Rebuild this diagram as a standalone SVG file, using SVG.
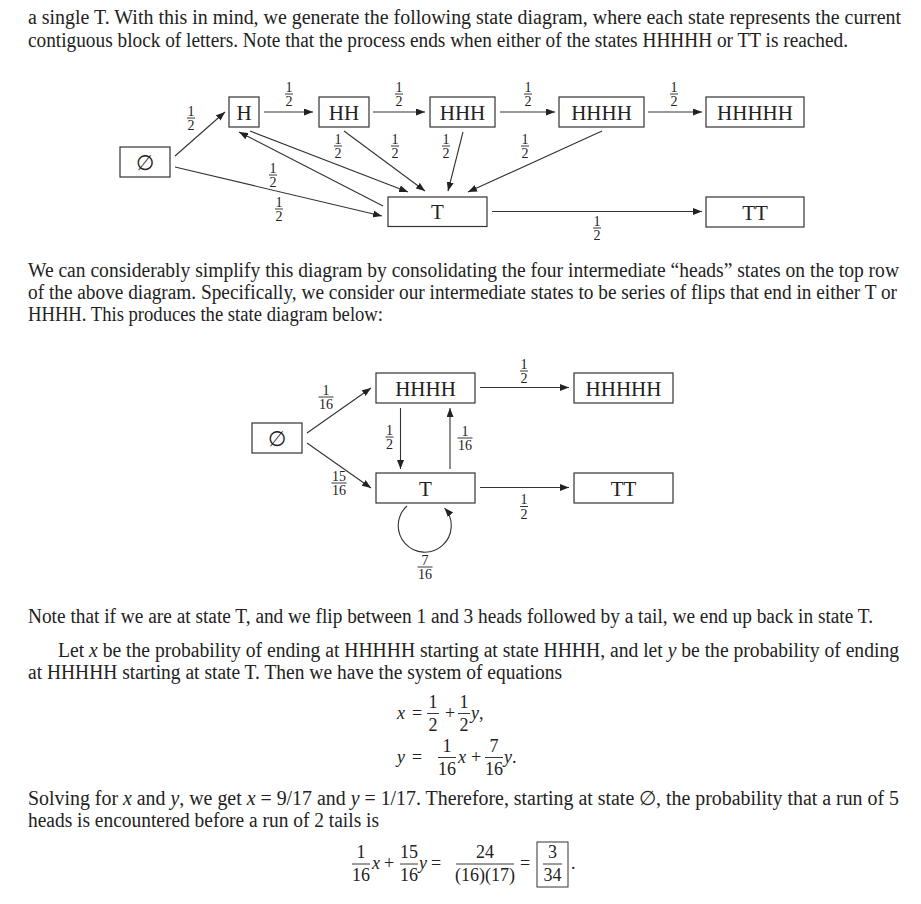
<svg xmlns="http://www.w3.org/2000/svg" width="921" height="904" viewBox="0 0 921 904">
<defs>
<marker id="arr" viewBox="0 0 9 7" refX="9" refY="3.5" markerWidth="9" markerHeight="7" markerUnits="userSpaceOnUse" orient="auto">
<path d="M0,0 L9,3.5 L0,7 z" fill="#222"/>
</marker>
<style>
text{font-family:"Liberation Serif","DejaVu Serif",serif;fill:#222}
.body{font-size:20px}
.box{fill:#fff;stroke:#333;stroke-width:1.2}
.nl{font-size:21px;text-anchor:middle}
.fr{font-size:14px;text-anchor:middle}
.bar{stroke:#222;stroke-width:0.9}
.edge{stroke:#333;stroke-width:1.1;fill:none;marker-end:url(#arr)}
.eq{font-size:18px}
.eqc{font-size:18px;text-anchor:middle}
.it{font-style:italic}
</style>
</defs>
<rect width="921" height="904" fill="#fff"/>

<!-- body text -->
<text class="body" x="28" y="24" textLength="873" lengthAdjust="spacingAndGlyphs">a single T. With this in mind, we generate the following state diagram, where each state represents the current</text>
<text class="body" x="28" y="47" textLength="820" lengthAdjust="spacingAndGlyphs">contiguous block of letters. Note that the process ends when either of the states HHHHH or TT is reached.</text>

<!-- Diagram 1 -->
<g id="d1-connectors">
<path class="edge" d="M175,156 L225,112"/>
<path class="edge" d="M264,112 L313,112"/>
<path class="edge" d="M373,112 L425,112"/>
<path class="edge" d="M500,112 L555,112"/>
<path class="edge" d="M648,112 L702,112"/>
<path class="edge" d="M492,211.5 L702,211.5"/>
<path class="edge" d="M250,131 L408,192"/>
<path class="edge" d="M383,206 L239,132"/>
<path class="edge" d="M344,131 L425,191"/>
<path class="edge" d="M463,132 L448,191"/>
<path class="edge" d="M602,131 L468,192"/>
<path class="edge" d="M175,167 L382,216"/>
</g>
<g id="d1-labels">
<g transform="translate(191,118)"><text class="fr" y="-2.5">1</text><line class="bar" x1="-4" x2="4"/><text class="fr" y="12">2</text></g>
<g transform="translate(289,94)"><text class="fr" y="-2.5">1</text><line class="bar" x1="-4" x2="4"/><text class="fr" y="12">2</text></g>
<g transform="translate(399,94)"><text class="fr" y="-2.5">1</text><line class="bar" x1="-4" x2="4"/><text class="fr" y="12">2</text></g>
<g transform="translate(528,94)"><text class="fr" y="-2.5">1</text><line class="bar" x1="-4" x2="4"/><text class="fr" y="12">2</text></g>
<g transform="translate(674,94)"><text class="fr" y="-2.5">1</text><line class="bar" x1="-4" x2="4"/><text class="fr" y="12">2</text></g>
<g transform="translate(338,146)"><text class="fr" y="-2.5">1</text><line class="bar" x1="-4" x2="4"/><text class="fr" y="12">2</text></g>
<g transform="translate(395,146)"><text class="fr" y="-2.5">1</text><line class="bar" x1="-4" x2="4"/><text class="fr" y="12">2</text></g>
<g transform="translate(446,146)"><text class="fr" y="-2.5">1</text><line class="bar" x1="-4" x2="4"/><text class="fr" y="12">2</text></g>
<g transform="translate(525,146)"><text class="fr" y="-2.5">1</text><line class="bar" x1="-4" x2="4"/><text class="fr" y="12">2</text></g>
<g transform="translate(273,175)"><text class="fr" y="-2.5">1</text><line class="bar" x1="-4" x2="4"/><text class="fr" y="12">2</text></g>
<g transform="translate(279,209)"><text class="fr" y="-2.5">1</text><line class="bar" x1="-4" x2="4"/><text class="fr" y="12">2</text></g>
<g transform="translate(597,228)"><text class="fr" y="-2.5">1</text><line class="bar" x1="-4" x2="4"/><text class="fr" y="12">2</text></g>
</g>
<g id="d1-empty"><rect class="box" x="120" y="147" width="50" height="30"/><text class="nl" x="145" y="169.5">∅</text></g>
<g id="d1-H"><rect class="box" x="229" y="97" width="30" height="30"/><text class="nl" x="244" y="119.5">H</text></g>
<g id="d1-HH"><rect class="box" x="319" y="97" width="50" height="30"/><text class="nl" x="344" y="119.5">HH</text></g>
<g id="d1-HHH"><rect class="box" x="430" y="97" width="65" height="30"/><text class="nl" x="462.5" y="119.5">HHH</text></g>
<g id="d1-HHHH"><rect class="box" x="559" y="97" width="85" height="30"/><text class="nl" x="601.5" y="119.5">HHHH</text></g>
<g id="d1-HHHHH"><rect class="box" x="706" y="97" width="98" height="30"/><text class="nl" x="755" y="119.5">HHHHH</text></g>
<g id="d1-T"><rect class="box" x="388" y="197" width="99" height="29.5"/><text class="nl" x="437.5" y="219">T</text></g>
<g id="d1-TT"><rect class="box" x="706" y="197" width="98" height="30"/><text class="nl" x="755" y="219.5">TT</text></g>

<text class="body" x="28" y="277" textLength="871" lengthAdjust="spacingAndGlyphs">We can considerably simplify this diagram by consolidating the four intermediate “heads” states on the top row</text>
<text class="body" x="28" y="299" textLength="869" lengthAdjust="spacingAndGlyphs">of the above diagram. Specifically, we consider our intermediate states to be series of flips that end in either T or</text>
<text class="body" x="28" y="321" textLength="355" lengthAdjust="spacingAndGlyphs">HHHH. This produces the state diagram below:</text>

<!-- Diagram 2 -->
<g id="d2-connectors">
<path class="edge" d="M307,433 L371,388"/>
<path class="edge" d="M307,443 L371,488"/>
<path class="edge" d="M400.5,408 L400.5,469"/>
<path class="edge" d="M450,469 L450,408"/>
<path class="edge" d="M480,387.5 L569,387.5"/>
<path class="edge" d="M480,487.5 L569,487.5"/>
<path class="edge" d="M407,506 A26.5,26.5 0 1 0 444.5,508"/>
</g>
<g id="d2-labels">
<g transform="translate(326,397)"><text class="fr" y="-2.5">1</text><line class="bar" x1="-7.5" x2="7.5"/><text class="fr" y="12">16</text></g>
<g transform="translate(339,483)"><text class="fr" y="-2.5">15</text><line class="bar" x1="-7.5" x2="7.5"/><text class="fr" y="12">16</text></g>
<g transform="translate(389.5,437)"><text class="fr" y="-2.5">1</text><line class="bar" x1="-4" x2="4"/><text class="fr" y="12">2</text></g>
<g transform="translate(465,438)"><text class="fr" y="-2.5">1</text><line class="bar" x1="-7.5" x2="7.5"/><text class="fr" y="12">16</text></g>
<g transform="translate(524,371)"><text class="fr" y="-2.5">1</text><line class="bar" x1="-4" x2="4"/><text class="fr" y="12">2</text></g>
<g transform="translate(524,506.5)"><text class="fr" y="-2.5">1</text><line class="bar" x1="-4" x2="4"/><text class="fr" y="12">2</text></g>
<g transform="translate(425,567)"><text class="fr" y="-2.5">7</text><line class="bar" x1="-7.5" x2="7.5"/><text class="fr" y="12">16</text></g>
</g>
<g id="d2-empty"><rect class="box" x="252" y="423" width="50" height="30"/><text class="nl" x="277" y="445.5">∅</text></g>
<g id="d2-HHHH"><rect class="box" x="376" y="373" width="99" height="30"/><text class="nl" x="425.5" y="395.5">HHHH</text></g>
<g id="d2-HHHHH"><rect class="box" x="574" y="373" width="99" height="30"/><text class="nl" x="623.5" y="395.5">HHHHH</text></g>
<g id="d2-T"><rect class="box" x="376" y="473" width="99" height="30"/><text class="nl" x="425.5" y="495.5">T</text></g>
<g id="d2-TT"><rect class="box" x="574" y="473" width="99" height="30"/><text class="nl" x="623.5" y="495.5">TT</text></g>

<text class="body" x="28" y="623" textLength="845" lengthAdjust="spacingAndGlyphs">Note that if we are at state T, and we flip between 1 and 3 heads followed by a tail, we end up back in state T.</text>
<text class="body" x="58" y="657" textLength="841" lengthAdjust="spacingAndGlyphs">Let <tspan class="it">x</tspan> be the probability of ending at HHHHH starting at state HHHH, and let <tspan class="it">y</tspan> be the probability of ending</text>
<text class="body" x="28" y="679" textLength="534" lengthAdjust="spacingAndGlyphs">at HHHHH starting at state T. Then we have the system of equations</text>

<!-- equations -->
<g id="eq1">
<text class="eq it" x="397" y="719">x</text>
<text class="eq" x="412" y="719">=</text>
<text class="eqc" x="433" y="708">1</text><line class="bar" x1="427" x2="439" y1="713.5" y2="713.5"/><text class="eqc" x="433" y="731">2</text>
<text class="eq" x="445" y="719">+</text>
<text class="eqc" x="464" y="708">1</text><line class="bar" x1="458" x2="470" y1="713.5" y2="713.5"/><text class="eqc" x="464" y="731">2</text>
<text class="eq" x="471" y="719"><tspan class="it">y</tspan>,</text>
</g>
<g id="eq2">
<text class="eq it" x="397" y="763">y</text>
<text class="eq" x="412" y="763">=</text>
<text class="eqc" x="447" y="752">1</text><line class="bar" x1="438" x2="456" y1="757.5" y2="757.5"/><text class="eqc" x="447" y="775">16</text>
<text class="eq it" x="458" y="763">x</text>
<text class="eq" x="471" y="763">+</text>
<text class="eqc" x="494" y="752">7</text><line class="bar" x1="485" x2="503" y1="757.5" y2="757.5"/><text class="eqc" x="494" y="775">16</text>
<text class="eq" x="504" y="763"><tspan class="it">y</tspan>.</text>
</g>

<text class="body" x="28" y="805" textLength="871" lengthAdjust="spacingAndGlyphs">Solving for <tspan class="it">x</tspan> and <tspan class="it">y</tspan>, we get <tspan class="it">x</tspan> = 9/17 and <tspan class="it">y</tspan> = 1/17. Therefore, starting at state ∅, the probability that a run of 5</text>
<text class="body" x="28" y="827" textLength="351" lengthAdjust="spacingAndGlyphs">heads is encountered before a run of 2 tails is</text>

<g id="eq3">
<text class="eqc" x="361" y="858">1</text><line class="bar" x1="352" x2="370" y1="864" y2="864"/><text class="eqc" x="361" y="881">16</text>
<text class="eq it" x="372" y="869">x</text>
<text class="eq" x="384" y="869">+</text>
<text class="eqc" x="409" y="858">15</text><line class="bar" x1="400" x2="418" y1="864" y2="864"/><text class="eqc" x="409" y="881">16</text>
<text class="eq it" x="419" y="869">y</text>
<text class="eq" x="431" y="869">=</text>
<text class="eqc" x="485" y="858">24</text><line class="bar" x1="456" x2="514" y1="864" y2="864"/><text class="eqc" x="485" y="881">(16)(17)</text>
<text class="eq" x="520" y="869">=</text>
<rect x="537" y="842" width="31" height="45" fill="none" stroke="#333" stroke-width="1"/>
<text class="eqc" x="552.5" y="858">3</text><line class="bar" x1="543" x2="562" y1="864" y2="864"/><text class="eqc" x="552.5" y="881">34</text>
<text class="eq" x="571" y="869">.</text>
</g>
</svg>
